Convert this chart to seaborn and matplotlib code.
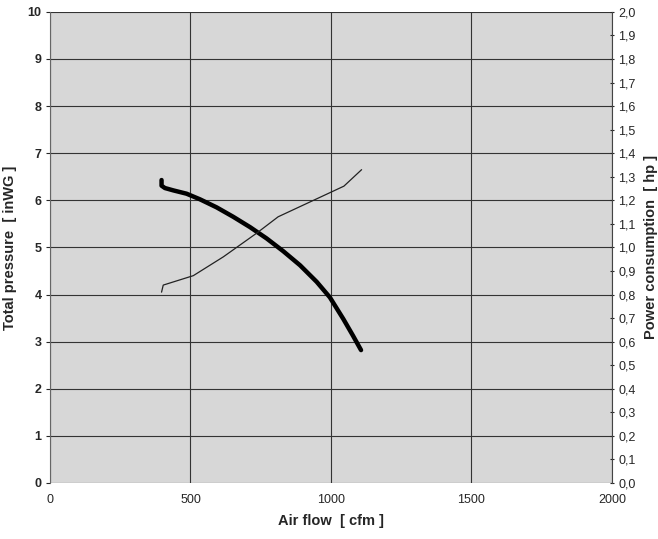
import numpy as np
import pandas as pd
import matplotlib
matplotlib.use("Agg")
import matplotlib.pyplot as plt
import seaborn as sns
from matplotlib.ticker import FuncFormatter, MultipleLocator

# pressure curve (left axis)
flow_p = [397, 397, 409, 439, 486, 534, 593, 652, 712, 771, 830, 890, 949, 996, 1044, 1078, 1107]
pressure = [6.43, 6.31, 6.26, 6.21, 6.14, 6.02, 5.85, 5.65, 5.43, 5.19, 4.92, 4.62, 4.27, 3.94, 3.48, 3.13, 2.82]

# power curve (right axis)
flow_w = [397, 403, 510, 617, 735, 812, 1046, 1109]
power = [0.81, 0.84, 0.88, 0.96, 1.06, 1.13, 1.26, 1.33]

sns.set_style("white")
plt.rcParams['font.family'] = ['Liberation Sans', 'DejaVu Sans']

df_p = pd.DataFrame({"flow": flow_p, "pressure": pressure})
df_w = pd.DataFrame({"flow": flow_w, "power": power})

fig = plt.figure(figsize=(6.58, 5.39), dpi=100)
ax = fig.add_axes([0.076, 0.104, 0.854, 0.874])
ax.set_facecolor("#d7d7d7")

ax.set_xlim(0, 2000)
ax.set_ylim(0, 10)
ax.xaxis.set_major_locator(MultipleLocator(500))
ax.yaxis.set_major_locator(MultipleLocator(1))
ax.grid(True, color="#333333", linewidth=0.8)
ax.set_axisbelow(True)

sns.lineplot(data=df_p, x="flow", y="pressure", ax=ax, color="black",
             linewidth=3.2, sort=False, estimator=None,
             solid_joinstyle="round", solid_capstyle="round")

ax2 = ax.twinx()
ax2.set_ylim(0, 2.0)
ax2.yaxis.set_major_locator(MultipleLocator(0.1))
ax2.yaxis.set_major_formatter(FuncFormatter(lambda v, p: f"{v:.1f}".replace(".", ",")))
sns.lineplot(data=df_w, x="flow", y="power", ax=ax2, color="#222222",
             linewidth=0.9, sort=False, estimator=None)

for a in (ax, ax2):
    for s in a.spines.values():
        s.set_visible(False)
ax.spines["left"].set_visible(True)
ax.spines["left"].set_color("#666666")
ax.spines["left"].set_linewidth(0.8)
ax2.spines["right"].set_visible(True)
ax2.spines["right"].set_color("#444444")
ax2.spines["right"].set_linewidth(0.8)

ax.tick_params(axis="x", length=0, labelsize=9, pad=8)
ax.tick_params(axis="y", length=3, direction="out", labelsize=9, pad=3)
for t in ax.get_yticklabels():
    t.set_fontweight("bold")
ax2.tick_params(axis="y", length=3, direction="inout", labelsize=9, pad=3)

ax.set_xlabel("Air flow  [ cfm ]", fontsize=10.5, fontweight="bold", labelpad=6)
ax.set_ylabel("Total pressure  [ inWG ]", fontsize=10.5, fontweight="bold", labelpad=8)
ax2.set_ylabel("Power consumption  [ hp ]", fontsize=10.5, fontweight="bold", labelpad=6)

fig.savefig("out.png", dpi=100)
